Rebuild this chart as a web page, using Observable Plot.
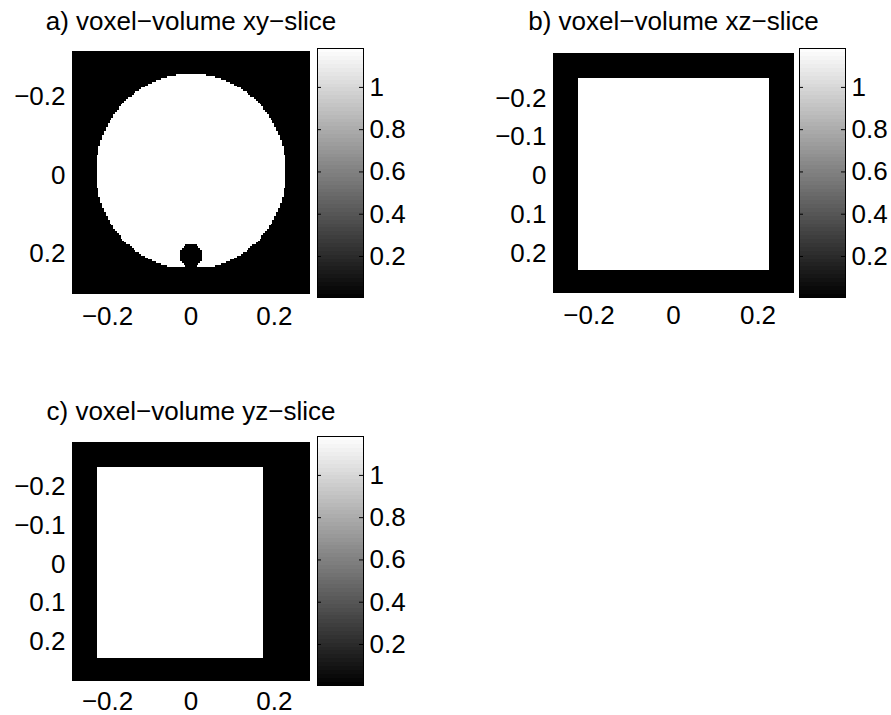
<!DOCTYPE html>
<html><head><meta charset="utf-8">
<script src="https://cdn.jsdelivr.net/npm/d3@7"></script>
<script src="https://cdn.jsdelivr.net/npm/@observablehq/plot@0.6"></script>
<style>
body{margin:0;background:#fff;}
#fig{position:relative;width:891px;height:715px;background:#fff;overflow:hidden;}
#fig svg{position:absolute;left:0;top:0;}
</style></head><body><div id="fig"></div>
<script>
// ---- data ----
const titles = ["a) voxel\u2212volume xy\u2212slice", "b) voxel\u2212volume xz\u2212slice", "c) voxel\u2212volume yz\u2212slice"];
const xTicks = [-0.2, 0, 0.2];
const yTicksA = [-0.2, 0, 0.2];
const yTicksBC = [-0.2, -0.1, 0, 0.1, 0.2];
const cbTicks = [0.2, 0.4, 0.6, 0.8, 1];
const xExtent = [-0.284, 0.284];
const yExtent = [-0.315, 0.30];
const colorRange = [0.006, 1.184];
const voxelValues = [0.006, 1.184];   // background, object
const gridSize = [128, 128];
const cbLevels = 64;
// object geometry in the three slices
const cylinderXY = [0, -0.010, 0.227, 0.248];   // cx, cy, rx, ry
const cylinderClipY = [-0.2565, 0.233];         // y range of the object
const holeXY = [0, 0.204, 0.028, 0.029];        // cx, cy, rx, ry
const boxXZ = [-0.226, 0.226, -0.254, 0.241];   // x1, x2, y1, y2
const boxYZ = [-0.227, 0.173, -0.254, 0.241];   // x1, x2, y1, y2

// ---- helpers ----
const inEllipse = (x, y, e) => ((x - e[0]) / e[2]) ** 2 + ((y - e[1]) / e[3]) ** 2 <= 1;
const inBox = (x, y, b) => x >= b[0] && x <= b[1] && y >= b[2] && y <= b[3];
const fills = [
  (x, y) => (inEllipse(x, y, cylinderXY) && y >= cylinderClipY[0] && y <= cylinderClipY[1] && !inEllipse(x, y, holeXY)) ? voxelValues[1] : voxelValues[0],
  (x, y) => inBox(x, y, boxXZ) ? voxelValues[1] : voxelValues[0],
  (x, y) => inBox(x, y, boxYZ) ? voxelValues[1] : voxelValues[0]
];
const W = 891, H = 715;
const FONT = "'Liberation Sans', Arial, Helvetica, sans-serif";
const FS = 26;
const layout = [
  {img: [72, 51, 309, 293], cb: [317, 48, 363, 297], base: 29, yTicks: yTicksA, pad: 13},
  {img: [553, 53, 793, 292], cb: [799, 48, 845, 297], base: 29, yTicks: yTicksBC, pad: 13},
  {img: [72, 442, 309, 680], cb: [317, 436, 363, 685], base: 419, yTicks: yTicksBC, pad: 11}
];
const color = {type: "linear", domain: colorRange, range: ["black", "white"]};
const style = {background: "transparent", fontFamily: FONT, fontSize: FS + "px", overflow: "visible"};
const fmt = d => d < 0 ? "\u2212" + String(-d) : String(d);
const fig = document.getElementById("fig");

layout.forEach((L, i) => {
  const [l, t, r, b] = L.img;
  const img = Plot.plot({
    width: W, height: H,
    marginLeft: l, marginTop: t, marginRight: W - r, marginBottom: H - b,
    style,
    x: {domain: xExtent, axis: null},
    y: {domain: yExtent, reverse: true, axis: null},
    color,
    marks: [
      Plot.raster({fill: fills[i], x1: xExtent[0], x2: xExtent[1], y1: yExtent[0], y2: yExtent[1],
        width: gridSize[0], height: gridSize[1], imageRendering: "pixelated"}),
      Plot.frame({stroke: "black"}),
      Plot.axisX(xTicks, {anchor: "bottom", tickSize: 0, tickPadding: L.pad, fontSize: FS, tickFormat: fmt, fill: "black"}),
      Plot.axisY(L.yTicks, {anchor: "left", tickSize: 0, tickPadding: 7, fontSize: FS, tickFormat: fmt, fill: "black"}),
      Plot.text([titles[i]], {text: d => d, frameAnchor: "top", lineAnchor: "bottom", dy: L.base - t, fontSize: FS, fill: "black"})
    ]
  });
  fig.appendChild(img);

  const [cl, ct, cr, cbm] = L.cb;
  const cb = Plot.plot({
    width: W, height: H,
    marginLeft: cl, marginTop: ct, marginRight: W - cr, marginBottom: H - cbm,
    style,
    x: {domain: [0, 1], axis: null},
    y: {domain: colorRange, axis: null},
    color,
    marks: [
      Plot.raster({fill: (x, y) => y, x1: 0, x2: 1, y1: colorRange[0], y2: colorRange[1],
        width: 1, height: cbLevels, imageRendering: "pixelated"}),
      Plot.frame({stroke: "black"}),
      Plot.tickY(cbTicks, {y: d => d, insetRight: (cr - cl) - 4, stroke: "black"}),
      Plot.tickY(cbTicks, {y: d => d, insetLeft: (cr - cl) - 4, stroke: "black"}),
      Plot.axisY(cbTicks, {anchor: "right", tickSize: 0, tickPadding: 6, fontSize: FS, tickFormat: fmt, fill: "black"})
    ]
  });
  fig.appendChild(cb);
});
</script></body></html>
